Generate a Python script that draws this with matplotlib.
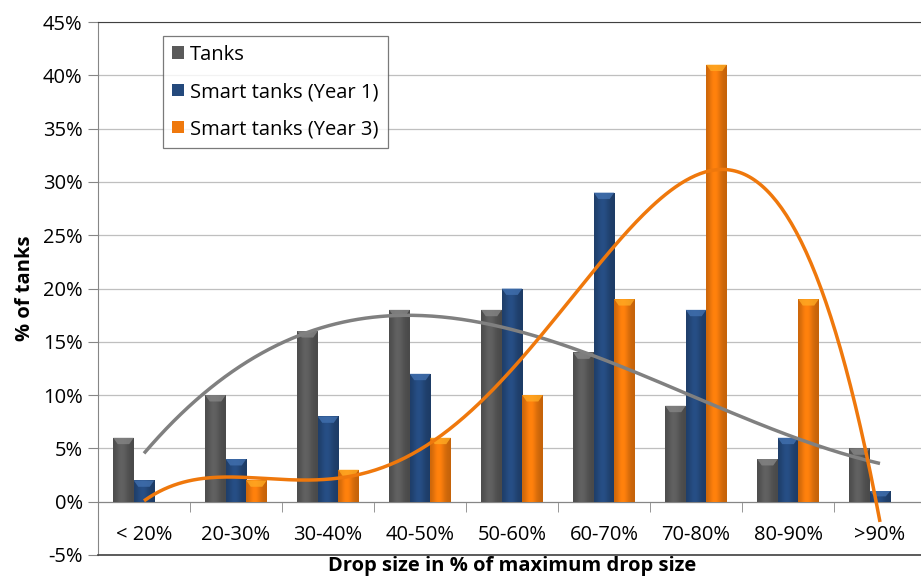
import numpy as np
import matplotlib
matplotlib.use("Agg")
import matplotlib.pyplot as plt
from matplotlib.colors import to_rgb
from matplotlib.patches import Polygon
from matplotlib.ticker import FixedLocator, PercentFormatter

categories = ["< 20%", "20-30%", "30-40%", "40-50%", "50-60%",
              "60-70%", "70-80%", "80-90%", ">90%"]
tanks = [6, 10, 16, 18, 18, 14, 9, 4, 5]
smart_y1 = [2, 4, 8, 12, 20, 29, 18, 6, 1]
smart_y3 = [0, 2, 3, 6, 10, 19, 41, 19, 0]

series = [
    ("Tanks", tanks, "#5a5a5a"),
    ("Smart tanks (Year 1)", smart_y1, "#24497c"),
    ("Smart tanks (Year 3)", smart_y3, "#ef780c"),
]

plt.rcParams["font.family"] = ["Open Sans", "DejaVu Sans"]
plt.rcParams["axes.unicode_minus"] = False

fig = plt.figure(figsize=(9.21, 5.85), dpi=100)
ax = fig.add_axes([98 / 921, 30 / 585, 828 / 921, 533 / 585])

x = np.arange(len(categories))
w = 0.223


def shade(bar, base):
    # cylinder-like shading plus a lighter bevel at the top
    c = np.array(to_rgb(base))
    t = np.linspace(0, 1, 40)
    f = 0.82 + 0.26 * np.exp(-((t - 0.42) / 0.3) ** 2)
    img = np.clip(c[None, :] * f[:, None], 0, 1)[None, :, :]
    x0, y0 = bar.get_x(), bar.get_y()
    bw = bar.get_width()
    x1, y1 = x0 + bw, y0 + bar.get_height()
    if y1 <= y0:
        return
    im = ax.imshow(img, extent=(x0, x1, y0, y1), aspect="auto",
                   interpolation="bilinear", zorder=3)
    im.set_clip_path(bar)
    d = min(0.6, (y1 - y0) * 0.5)
    cap = Polygon([(x0, y1), (x1, y1), (x1 - bw * 0.22, y1 - d),
                   (x0 + bw * 0.22, y1 - d)], closed=True,
                  facecolor=np.clip(c * 1.25 + 0.08, 0, 1), edgecolor="none",
                  alpha=0.8, zorder=3.5)
    ax.add_patch(cap)


for i, (name, vals, col) in enumerate(series):
    bars = ax.bar(x + (i - 1) * w, vals, width=w, color=col, label=name,
                  zorder=2, linewidth=0)
    for b in bars:
        shade(b, col)

# polynomial trend lines
xs = np.linspace(1, 9, 300)
p_t = np.polyfit(np.arange(1, 10), tanks, 3)
p_3 = np.polyfit(np.arange(1, 10), smart_y3, 4)
ax.plot(xs - 1, np.polyval(p_t, xs), color="#808080", lw=2.5, zorder=4,
        solid_capstyle="butt")
ax.plot(xs - 1, np.polyval(p_3, xs), color="#ef780c", lw=2.5, zorder=4,
        solid_capstyle="butt")

ax.set_xlim(-0.5, len(categories) - 0.5)
ax.set_ylim(-5, 45)

ax.yaxis.set_major_locator(FixedLocator(np.arange(-5, 46, 5)))
ax.yaxis.set_major_formatter(PercentFormatter(decimals=0))
ax.grid(axis="y", color="#bfbfbf", lw=0.9, zorder=0)
ax.set_axisbelow(True)

ax.set_xticks(x)
ax.set_xticklabels(categories)
ax.set_xticks(np.arange(-0.5, len(categories), 1), minor=True)
ax.tick_params(axis="x", which="major", length=0, pad=17, labelsize=14.5)
ax.tick_params(axis="x", which="minor", length=7, color="#868686",
               direction="out")
ax.tick_params(axis="y", length=7, color="#868686", labelsize=14.5, pad=4)

ax.spines["bottom"].set_position(("data", 0))
ax.spines["bottom"].set_color("#868686")
ax.spines["left"].set_color("#868686")
ax.spines["right"].set_visible(False)
ax.spines["top"].set_color("#404040")
ax.axhline(-5, color="#404040", lw=1.2, clip_on=False, zorder=5)

ax.set_ylabel("% of tanks", fontsize=14.5, fontweight="bold", labelpad=6)
ax.set_xlabel("Drop size in % of maximum drop size", fontsize=14.5,
              fontweight="bold", labelpad=8)

leg = ax.legend(loc="upper left", bbox_to_anchor=(0.0785, 0.974),
                borderaxespad=0, fancybox=False, fontsize=14.5,
                handlelength=0.6, handleheight=0.6, handletextpad=0.3,
                labelspacing=0.85, borderpad=0.45)
leg.get_frame().set_edgecolor("#595959")
leg.get_frame().set_linewidth(0.9)

fig.savefig("out.png", dpi=100)
